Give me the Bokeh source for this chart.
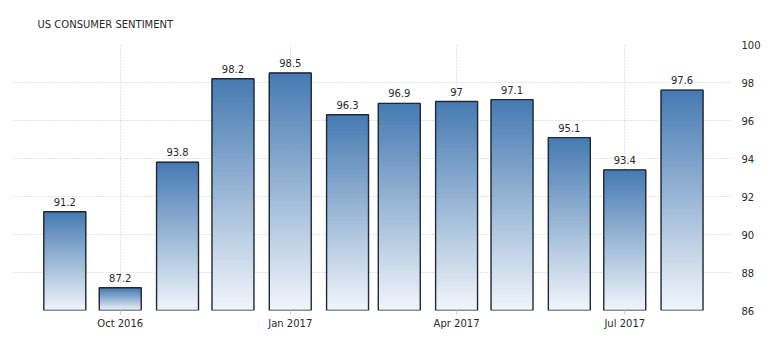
import pandas as pd
from bokeh.plotting import figure
from bokeh.models import ColumnDataSource, Range1d, FixedTicker, DatetimeTickFormatter, Title
from bokeh.core.properties import value
from bokeh.embed import file_html
from bokeh.resources import INLINE

# ---- data ----
months = ["2016-09-01", "2016-10-01", "2016-11-01", "2016-12-01", "2017-01-01", "2017-02-01",
          "2017-03-01", "2017-04-01", "2017-05-01", "2017-06-01", "2017-07-01", "2017-08-01"]
values = [91.2, 87.2, 93.8, 98.2, 98.5, 96.3, 96.9, 97.0, 97.1, 95.1, 93.4, 97.6]
value_labels = ["91.2", "87.2", "93.8", "98.2", "98.5", "96.3", "96.9", "97", "97.1", "95.1", "93.4", "97.6"]
x_tick_dates = ["2016-10-01", "2017-01-01", "2017-04-01", "2017-07-01"]
y_ticks = [86, 88, 90, 92, 94, 96, 98, 100]
baseline = 86
title_text = "US CONSUMER SENTIMENT"

# ---- styling ----
FONT = "DejaVu Sans"
TOP_COLOR = (70, 122, 178)
BOTTOM_COLOR = (242, 246, 251)
DAY = 86400000.0
TEXT = "#2a2a2a"


def ms(d):
    return pd.Timestamp(d).timestamp() * 1000.0


xs = [ms(m) for m in months]
bar_w = 22.7 * DAY

# gradient segments built from the data values
N = 50
seg_x, seg_b, seg_t, seg_c = [], [], [], []
for x, v in zip(xs, values):
    h = v - baseline
    for k in range(N):
        t = (k + 0.5) / N
        c = tuple(int(round(BOTTOM_COLOR[j] + (TOP_COLOR[j] - BOTTOM_COLOR[j]) * t)) for j in range(3))
        seg_x.append(x)
        seg_b.append(baseline + h * k / N)
        seg_t.append(baseline + h * (k + 1) / N)
        seg_c.append("#%02x%02x%02x" % c)

seg_src = ColumnDataSource(dict(x=seg_x, bottom=seg_b, top=seg_t, color=seg_c))
bar_src = ColumnDataSource(dict(x=xs, top=values, label=value_labels))

x_start = ms("2016-09-01") - 28.3 * DAY
x_end = ms("2017-08-01") + 27.3 * DAY

p = figure(width=774, height=345, x_axis_type="datetime", y_axis_location="right",
           output_backend="svg", toolbar_location=None,
           x_range=Range1d(x_start, x_end), y_range=Range1d(baseline, 100),
           min_border_left=12, min_border_right=42, min_border_top=44, min_border_bottom=35)
p.outline_line_color = None
p.background_fill_color = "white"

t = Title(text=title_text, text_font=FONT, text_font_size="10px", text_font_style="normal",
          text_color=TEXT, offset=25, standoff=30, text_line_height=0.4)
p.add_layout(t, "above")

p.vbar(x="x", width=bar_w, bottom="bottom", top="top", fill_color="color",
       line_color="color", line_width=1, source=seg_src)
p.vbar(x="x", width=bar_w, bottom=baseline, top="top", fill_color=None,
       line_color="#1f2a35", line_width=1.4, source=bar_src)
p.text(x="x", y="top", text="label", source=bar_src, text_align="center",
       text_baseline="bottom", y_offset=-6, text_font=value(FONT),
       text_font_size="10px", text_color=TEXT)

# axes
xt = FixedTicker(ticks=[ms(d) for d in x_tick_dates])
p.xaxis.ticker = xt
p.xaxis.formatter = DatetimeTickFormatter(days="%b %Y", months="%b %Y", years="%b %Y")
p.xaxis.axis_line_color = None
p.xaxis.major_tick_line_color = "#cccccc"
p.xaxis.major_tick_out = 4
p.xaxis.major_tick_in = 0
p.xaxis.minor_tick_line_color = None
p.xaxis.major_label_standoff = 3
p.xaxis.major_label_text_font = FONT
p.xaxis.major_label_text_font_size = "10px"
p.xaxis.major_label_text_color = TEXT

p.yaxis.ticker = FixedTicker(ticks=y_ticks)
p.yaxis.axis_line_color = None
p.yaxis.major_tick_line_color = None
p.yaxis.minor_tick_line_color = None
p.yaxis.major_label_standoff = 3
p.yaxis.major_label_text_font = FONT
p.yaxis.major_label_text_font_size = "10px"
p.yaxis.major_label_text_color = TEXT

for g in (p.xgrid, p.ygrid):
    g.grid_line_color = "#c8c8c8"
    g.grid_line_dash = "1 2"
    g.grid_line_width = 1
p.xgrid.ticker = xt

open("out.html", "w").write(file_html(p, INLINE))
